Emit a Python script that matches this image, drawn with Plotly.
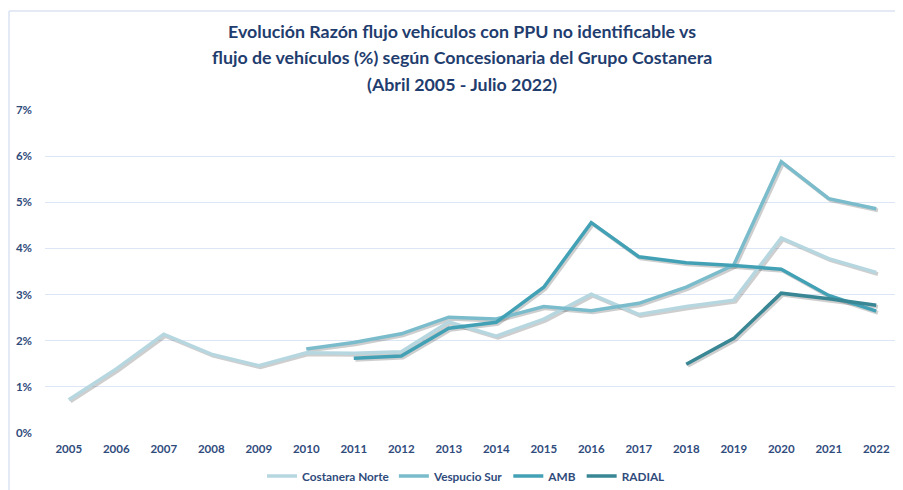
import plotly.graph_objects as go

years = [str(y) for y in range(2005, 2023)]

costanera_norte = [0.72, 1.39, 2.14, 1.71, 1.46, 1.74, 1.73, 1.76, 2.41, 2.10,
                   2.47, 3.01, 2.57, 2.74, 2.88, 4.23, 3.78, 3.48]
vespucio_sur = [None, None, None, None, None, 1.82, 1.96, 2.15, 2.51, 2.47,
                2.74, 2.65, 2.81, 3.16, 3.64, 5.88, 5.08, 4.86]
amb = [None, None, None, None, None, None, 1.62, 1.67, 2.27, 2.40,
       3.16, 4.56, 3.82, 3.69, 3.63, 3.55, 2.98, 2.64]
radial = [None, None, None, None, None, None, None, None, None, None,
          None, None, None, 1.49, 2.05, 3.03, 2.91, 2.77]

title_lines = [
    "Evolución Razón flujo vehículos con PPU no identificable vs",
    "flujo de vehículos (%) según Concesionaria del Grupo Costanera",
    "(Abril 2005 - Julio 2022)",
]

series = [
    ("Costanera Norte", costanera_norte, "#b7d7e0"),
    ("Vespucio Sur", vespucio_sur, "#7abccb"),
    ("AMB", amb, "#43a1b6"),
    ("RADIAL", radial, "#398694"),
]

FONT = "Lato"
TXT = "#2f4b7c"

# page renders with an 8px body margin; work in page pixel coords
OFF = 8
W, H = 903 - OFF, 490 - OFF                 # figure size fits the window
PL, PR, PT, PB = 45, 900, 110, 433          # plot area in page coords
ML, MR = PL - OFF, W - (PR - OFF)
MT, MB = PT - OFF, H - (PB - OFF)
PLOT_W, PLOT_H = PR - PL, PB - PT

XR = [-0.5, 17.5]
YR = [0, 0.07]
SH = 1.7  # shadow offset px
dx = SH / PLOT_W * (XR[1] - XR[0])
dy = SH / PLOT_H * (YR[1] - YR[0])

fig = go.Figure()
# invisible carrier trace so the base axes (ticks, grid) are drawn
fig.add_trace(go.Scatter(
    x=years, y=[v / 100 for v in costanera_norte], mode="lines",
    line=dict(width=0), opacity=0, showlegend=False, hoverinfo="skip",
))
for name, vals, col in series:
    yv = [v / 100 if v is not None else None for v in vals]
    fig.add_trace(go.Scatter(
        x=years, y=yv, mode="lines", showlegend=False, hoverinfo="skip",
        line=dict(color="rgba(60,60,60,0.25)", width=3.8),
        xaxis="x2", yaxis="y2",
    ))
for name, vals, col in series:
    yv = [v / 100 if v is not None else None for v in vals]
    fig.add_trace(go.Scatter(
        x=years, y=yv, mode="lines", name=name,
        line=dict(color=col, width=3.5),
        xaxis="x3", yaxis="y3",
    ))

annotations = []
for i, line in enumerate(title_lines):
    ypix = 31 + i * 26.5
    annotations.append(dict(
        text=line, xref="paper", yref="paper",
        x=(462 - PL) / PLOT_W, y=(PB - ypix) / PLOT_H,
        xanchor="center", yanchor="middle", showarrow=False,
        font=dict(family=FONT, size=17.8, color="#1f3d6e", weight="bold"),
    ))

hidden = dict(showticklabels=False, ticks="", showline=False,
              showgrid=False, zeroline=False, automargin=False)
border = dict(color="#dae3f3", width=1.5)
fig.update_layout(
    width=W, height=H,
    paper_bgcolor="white", plot_bgcolor="white",
    margin=dict(l=ML, r=MR, t=MT, b=MB),
    annotations=annotations,
    xaxis=dict(
        type="category", categoryarray=years, range=XR, automargin=False,
        showgrid=False, showline=False, zeroline=False,
        ticks="", ticklabelstandoff=7,
        tickfont=dict(family=FONT, size=11.5, color=TXT, weight="bold"),
    ),
    yaxis=dict(
        range=YR, dtick=0.01, tickformat=".0%", automargin=False,
        showgrid=True, gridcolor="#dce6f4", gridwidth=1,
        zeroline=False, showline=False, ticks="",
        ticklabelstandoff=12,
        tickfont=dict(family=FONT, size=11.5, color=TXT, weight="bold"),
    ),
    xaxis2=dict(type="category", categoryarray=years, overlaying="x",
                range=[XR[0] - dx, XR[1] - dx], **hidden),
    yaxis2=dict(overlaying="y", range=[YR[0] + dy, YR[1] + dy], **hidden),
    xaxis3=dict(type="category", categoryarray=years, overlaying="x",
                range=XR, **hidden),
    yaxis3=dict(overlaying="y", range=YR, **hidden),
    legend=dict(
        orientation="h", x=(466 - PL) / PLOT_W, xanchor="center",
        yref="container", y=1 - (476 - OFF) / H, yanchor="middle",
        font=dict(family=FONT, size=11.8, color=TXT, weight="bold"),
        itemwidth=30,
    ),
    shapes=[
        dict(type="line", xref="paper", yref="paper",
             x0=(9 - PL) / PLOT_W, x1=(9 - PL) / PLOT_W,
             y0=(PB - 11) / PLOT_H, y1=-0.4, line=border, layer="below"),
        dict(type="line", xref="paper", yref="paper",
             x0=(9 - PL) / PLOT_W, x1=1.2,
             y0=(PB - 11) / PLOT_H, y1=(PB - 11) / PLOT_H,
             line=border, layer="below"),
    ],
)

fig.write_html("out.html")
